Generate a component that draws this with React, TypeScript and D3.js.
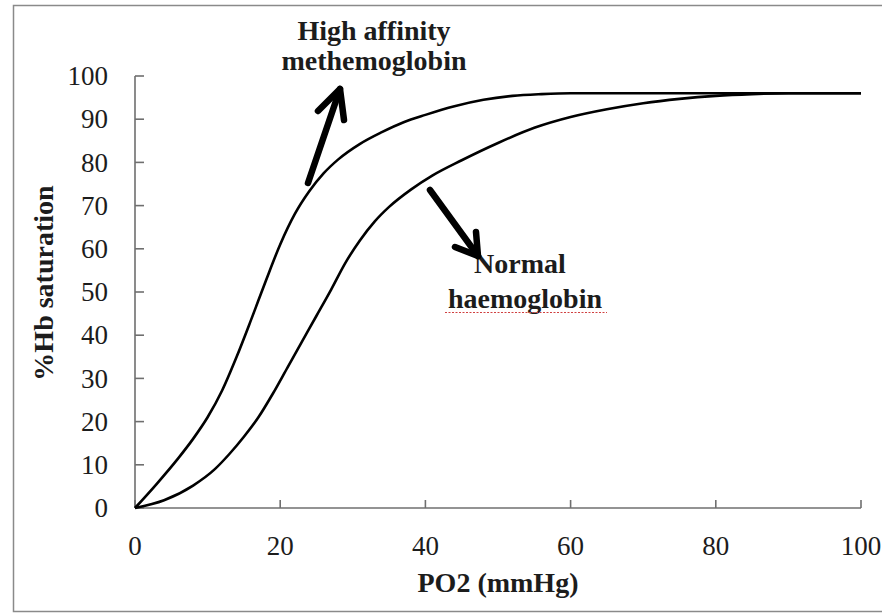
import React from "react";
import * as d3 from "d3";

// PO2 (mmHg) sample points and % Hb saturation
const highAffinityPO2 = [0, 3, 6, 8, 10, 12, 14, 16, 18, 20, 22, 24, 26, 28, 31, 34, 37, 40, 44, 48, 52, 56, 60, 70, 80, 90, 100];
const highAffinitySat = [0, 5.6, 11.6, 16, 21, 27.2, 35, 43.6, 52.5, 61, 68, 73.3, 77.5, 80.7, 84.3, 87, 89.3, 91, 93, 94.5, 95.4, 95.8, 96, 96, 96, 96, 96];

const normalPO2 = [0, 4, 8, 11, 13, 15, 17, 19, 21, 23, 25, 27, 29, 31, 33, 35, 38, 41, 45, 50, 55, 60, 65, 70, 75, 80, 85, 90, 100];
const normalSat = [0, 1.8, 5.2, 9, 12.5, 16.5, 21, 26.5, 32.5, 38.5, 44.5, 50.5, 56.8, 62, 66.3, 69.7, 73.7, 77, 80.5, 84.5, 88, 90.5, 92.3, 93.7, 94.7, 95.4, 95.8, 96, 96];

const xTicks = [0, 20, 40, 60, 80, 100];
const yTicks = [0, 10, 20, 30, 40, 50, 60, 70, 80, 90, 100];

const xTitle = "PO2 (mmHg)";
const yTitle = "%Hb saturation";
const highLabel = ["High affinity", "methemoglobin"];
const normalLabel = ["Normal", "haemoglobin"];

const W = 882;
const H = 613;
const serif = "'Liberation Serif', 'Times New Roman', 'DejaVu Serif', serif";

export default function App() {
  const x = d3.scaleLinear().domain([0, 100]).range([135, 861]);
  const y = d3.scaleLinear().domain([0, 100]).range([508, 76]);

  const line = d3
    .line<[number, number]>()
    .x((d) => x(d[0]))
    .y((d) => y(d[1]))
    .curve(d3.curveMonotoneX);

  const highPts: [number, number][] = highAffinityPO2.map((p, i) => [p, highAffinitySat[i]]);
  const normPts: [number, number][] = normalPO2.map((p, i) => [p, normalSat[i]]);

  const axisColor = "#6f6f6f";
  const textColor = "#1c1c1c";

  return (
    <svg
      width={W}
      height={H}
      style={{ position: "absolute", left: 0, top: 0, display: "block", background: "#fff" }}
    >
      <rect x={0} y={0} width={W} height={H} fill="#fff" />
      {/* outer frame */}
      <rect x={13.5} y={5.5} width={880} height={606} fill="none" stroke="#8a8a8a" strokeWidth={1.5} />

      {/* axes */}
      <line x1={x(0)} x2={x(0)} y1={y(0)} y2={y(100)} stroke={axisColor} strokeWidth={1.6} />
      <line x1={x(0)} x2={x(100)} y1={y(0)} y2={y(0)} stroke={axisColor} strokeWidth={1.6} />
      {yTicks.map((t) => (
        <g key={"y" + t}>
          <line x1={x(0)} x2={x(0) + 9} y1={y(t)} y2={y(t)} stroke={axisColor} strokeWidth={1.6} />
          <text
            x={108}
            y={y(t)}
            dy="0.34em"
            textAnchor="end"
            fontFamily={serif}
            fontSize={27}
            fill={textColor}
          >
            {t}
          </text>
        </g>
      ))}
      {xTicks.map((t) => (
        <g key={"x" + t}>
          <line x1={x(t)} x2={x(t)} y1={y(0)} y2={y(0) - 8} stroke={axisColor} strokeWidth={1.6} />
          <text
            x={x(t)}
            y={555}
            textAnchor="middle"
            fontFamily={serif}
            fontSize={27}
            fill={textColor}
          >
            {t}
          </text>
        </g>
      ))}

      {/* axis titles */}
      <text
        x={498}
        y={592}
        textAnchor="middle"
        fontFamily={serif}
        fontWeight="bold"
        fontSize={28}
        fill={textColor}
      >
        {xTitle}
      </text>
      <text
        transform={`translate(53,283) rotate(-90)`}
        textAnchor="middle"
        fontFamily={serif}
        fontWeight="bold"
        fontSize={28}
        fill={textColor}
      >
        {yTitle}
      </text>

      {/* curves */}
      <path d={line(highPts) || ""} fill="none" stroke="#000" strokeWidth={2.6} />
      <path d={line(normPts) || ""} fill="none" stroke="#000" strokeWidth={2.6} />

      {/* annotations */}
      <text x={374} y={40} textAnchor="middle" fontFamily={serif} fontWeight="bold" fontSize={28} fill={textColor}>
        {highLabel[0]}
      </text>
      <text x={374} y={70} textAnchor="middle" fontFamily={serif} fontWeight="bold" fontSize={28} fill={textColor}>
        {highLabel[1]}
      </text>
      <text x={520} y={273} textAnchor="middle" fontFamily={serif} fontWeight="bold" fontSize={28} fill={textColor}>
        {normalLabel[0]}
      </text>
      <text x={525} y={308} textAnchor="middle" fontFamily={serif} fontWeight="bold" fontSize={28} fill={textColor}>
        {normalLabel[1]}
      </text>
      <line x1={445} x2={607} y1={312.5} y2={312.5} stroke="#d04040" strokeWidth={1} strokeDasharray="2,1.5" />

      {/* arrows */}
      <g stroke="#000" strokeWidth={6.5} strokeLinecap="round" strokeLinejoin="round" fill="none">
        <line x1={308} y1={183} x2={340} y2={89} />
        <polyline points="318,111 340,89 344,120" />
        <line x1={430} y1={190} x2={478} y2={256} />
        <polyline points="455,247 478,256 476,232" />
      </g>
    </svg>
  );
}
